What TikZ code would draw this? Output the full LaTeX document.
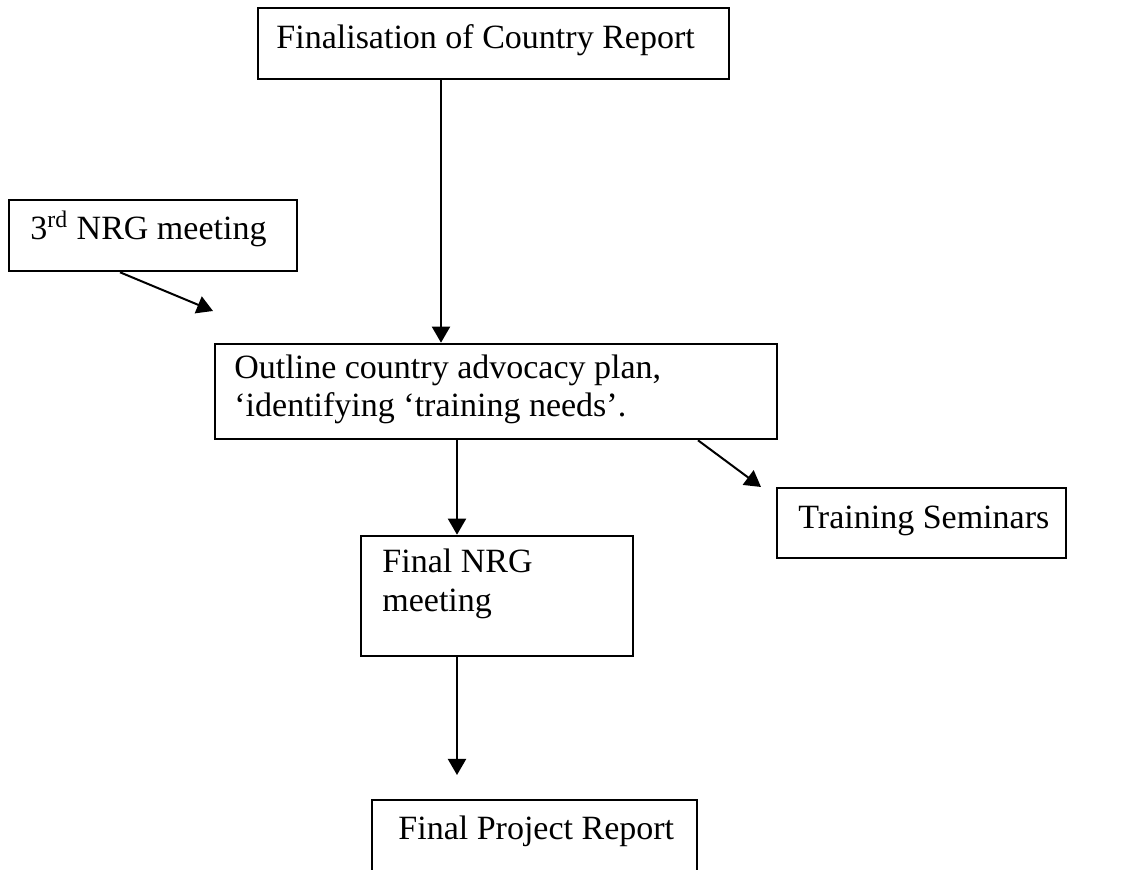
\documentclass[tikz,border=0pt]{standalone}
\usepackage{fontspec}
\setmainfont{Liberation Serif}
\usetikzlibrary{arrows.meta}
\begin{document}
\begin{tikzpicture}[x=0.5pt,y=-0.5pt,
  box/.style={draw,line width=1.3pt,inner sep=0pt,anchor=center},
  txt/.style={inner sep=0pt,anchor=base west,font=\fontsize{17}{19.5}\selectfont},
  arr/.style={line width=1pt,-{Triangle[width=9pt,length=8pt]}}]
\useasboundingbox (0,0) rectangle (1136,870);
\clip (0,0) rectangle (1136,870);
% boxes
\node[box,minimum width=235.5pt,minimum height=35.5pt] (top) at (493.5,43.5) {};
\node[box,minimum width=144pt,minimum height=35.5pt] (nrg3) at (153,235.5) {};
\node[box,minimum width=281pt,minimum height=47.5pt] (outline) at (496,391.5) {};
\node[box,minimum width=144.5pt,minimum height=35pt] (training) at (921.5,523) {};
\node[box,minimum width=136pt,minimum height=60pt] (finalnrg) at (497,596) {};
\node[box,minimum width=162.5pt,minimum height=60pt] (project) at (534.5,860) {};
% texts
\node[txt] (ttop) at (276,49) {Finalisation of Country Report};
\node[txt] (tnrg3) at (30,240) {3\textsuperscript{rd} NRG meeting};
\node[txt] (tout1) at (234,379) {Outline country advocacy plan,};
\node[txt] (tout2) at (234,417) {‘identifying ‘training needs’.};
\node[txt] (ttrain) at (798,529) {Training Seminars};
\node[txt] (tfin1) at (382,573) {Final NRG};
\node[txt] (tfin2) at (382,612) {meeting};
\node[txt] (tproj) at (398,840) {Final Project Report};
% coordinates
\coordinate (xa) at (441,0);
\coordinate (xb) at (457,0);
\coordinate (s3) at (120,0);
\coordinate (e3) at (213,311);
\coordinate (so) at (698,0);
\coordinate (et) at (761,487);
\coordinate (ep) at (457,775);
% connectors
\draw[arr] (top.south -| xa) -- (outline.north -| xa);
\draw[arr] (nrg3.south -| s3) -- (e3);
\draw[arr] (outline.south -| xb) -- (finalnrg.north -| xb);
\draw[arr] (outline.south -| so) -- (et);
\draw[arr] (finalnrg.south -| xb) -- (ep);
\end{tikzpicture}
\end{document}
